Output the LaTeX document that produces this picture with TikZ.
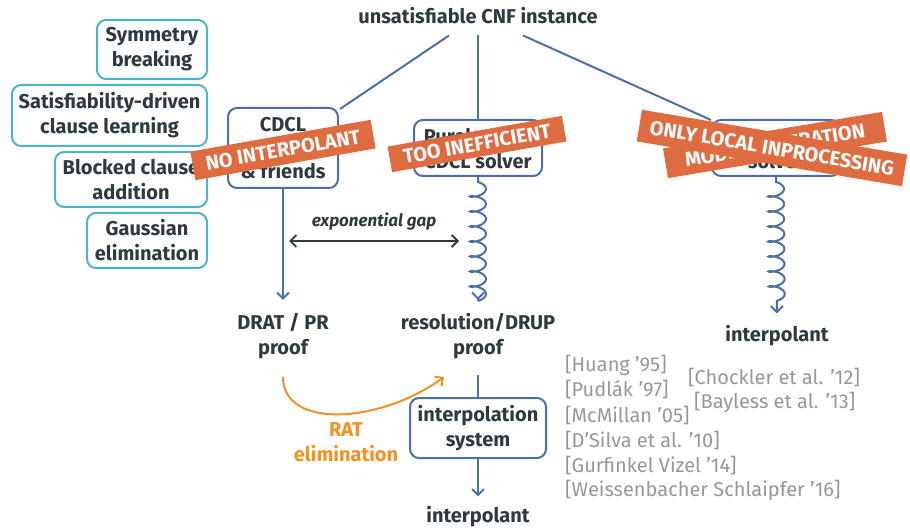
\documentclass[tikz,border=0pt]{standalone}
\usepackage{fontspec}
\setmainfont{Fira Sans}
\usetikzlibrary{decorations.pathmorphing, arrows.meta}
\definecolor{txtc}{HTML}{2F3A40}
\definecolor{bluec}{HTML}{4C6FA8}
\definecolor{tealc}{HTML}{4DB4C6}
\definecolor{bannerc}{HTML}{DF6B40}
\definecolor{orangec}{HTML}{F29222}
\definecolor{grayc}{HTML}{979797}
\begin{document}
\begin{tikzpicture}[x=1pt,y=-1pt,
  base/.style={font=\fontsize{20}{25}\selectfont\bfseries, text=txtc, align=center, inner sep=0pt},
  tealbox/.style={base, draw=tealc, line width=2pt, rounded corners=9pt},
  bluebox/.style={base, draw=bluec, line width=2pt, rounded corners=9pt},
  banner/.style={fill=bannerc, text=white, font=\fontsize{20}{22}\selectfont\bfseries, inner sep=0pt},
  conn/.style={draw=bluec, line width=2pt},
  arr/.style={conn, -{Straight Barb[length=6pt,width=12pt]}},
  coilarr/.style={arr, decorate, decoration={coil, amplitude=8pt, segment length=15pt, aspect=0.4, pre length=5pt, post length=10pt}},
  gaparr/.style={draw=txtc, line width=1.8pt, {Straight Barb[length=6pt,width=12pt]}-{Straight Barb[length=6pt,width=12pt]}},
  ratarr/.style={draw=orangec, line width=2pt, -{Straight Barb[length=6pt,width=12pt]}},
  refc/.style={font=\fontsize{20}{25}\selectfont, text=grayc, anchor=west, inner sep=0pt}
]
\useasboundingbox (0,0) rectangle (910,529);

% nodes
\node[base] (cnf) at (478,16) {unsatisfiable CNF instance};

\node[tealbox, minimum width=110, minimum height=59] (sym) at (152,49.5) {Symmetry\\breaking};
\node[tealbox, minimum width=195, minimum height=61] (sat) at (109.5,115.5) {Satisfiability-driven\\clause learning};
\node[tealbox, minimum width=152, minimum height=55] (bca) at (131,179.5) {Blocked clause\\addition};
\node[tealbox, minimum width=120, minimum height=55] (gauss) at (147,240.5) {Gaussian\\elimination};

\node[bluebox, minimum width=110, minimum height=80] (cdcl) at (283,148) {CDCL\\[22pt]\&~friends};
\node[bluebox, minimum width=128, minimum height=56] (pure) at (478,148) {Purely plain\\CDCL solver};
\node[bluebox, minimum width=128, minimum height=56] (model) at (776,148) {Interpolating\\solver};

\node[base] (drat) at (283,336) {DRAT / PR\\proof};
\node[base] (res) at (478,336) {resolution/DRUP\\proof};
\node[base] (ipr) at (777,336) {interpolant};
\node[bluebox, minimum width=136, minimum height=60] (isys) at (478,428) {interpolation\\system};
\node[base] (ip) at (478,517) {interpolant};

\node[base, font=\fontsize{17}{20}\selectfont\bfseries\itshape] (gap) at (374,222) {exponential gap};
\node[base, text=orangec] (rat) at (346,442) {RAT\\elimination};

% references
\node[refc] (r1) at (565,365) {[Huang ’95]};
\node[refc] (r2) at (565,389) {[Pudlák ’97]};
\node[refc] (r3) at (565,415) {[McMillan ’05]};
\node[refc] (r4) at (565,440) {[D’Silva et al. ’10]};
\node[refc] (r5) at (565,465) {[Gurfinkel Vizel ’14]};
\node[refc] (r6) at (565,490) {[Weissenbacher Schlaipfer ’16]};
\node[refc] (r7) at (688,377) {[Chockler et al. ’12]};
\node[refc] (r8) at (694,402) {[Bayless et al. ’13]};

% connectors
\draw[conn] ([xshift=-29pt,yshift=-11pt]cnf.south) -- ([xshift=1pt,yshift=-2pt]cdcl.north east);
\draw[conn] ([yshift=-11pt]cnf.south) -- (pure.north);
\draw[conn] ([xshift=45pt,yshift=-11pt]cnf.south) -- ([yshift=-1pt]model.north west);

\draw[arr, shorten >=13pt] (cdcl.south) -- (drat.north);
\draw[coilarr, shorten >=13pt] (pure.south) -- (res.north);
\draw[coilarr, shorten >=12pt] (model.south) -- (ipr.north);
\draw[conn, shorten <=16pt] (res.south) -- (isys.north);
\draw[arr, shorten >=10pt] (isys.south) -- (ip.north);

\coordinate (gl) at (289,241);
\coordinate (gr) at (459,241);
\draw[gaparr] (gl) -- (gr);

\draw[ratarr] ([yshift=-18pt]drat.south) .. controls +(0,52) and +(-65,47) .. ([xshift=-34pt,yshift=-18pt]res.south);

% banners
\node[banner, rotate=10, minimum width=183, minimum height=29] (b1) at (283,150) {NO INTERPOLANT};
\node[banner, rotate=10, minimum width=177, minimum height=26] (b2) at (477,144) {TOO INEFFICIENT};
\node[banner, rotate=9.5, minimum width=222, minimum height=30] (b3) at (775,145) {MODEL GENERATION};
\node[banner, rotate=-9.6, minimum width=269, minimum height=32] (b4) at (772,148) {ONLY LOCAL INPROCESSING};
\end{tikzpicture}
\end{document}
